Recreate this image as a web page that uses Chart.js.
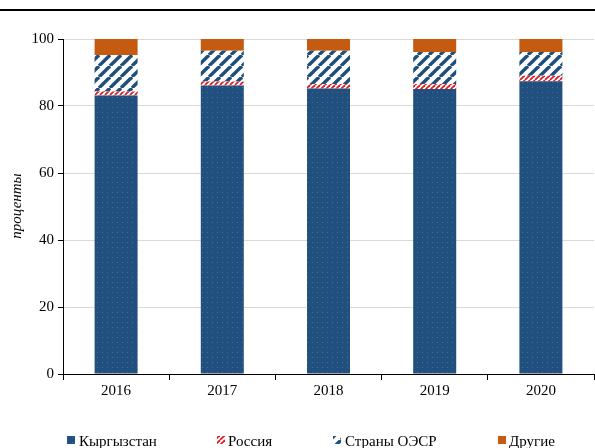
<!DOCTYPE html>
<html><head><meta charset="utf-8">
<script src="https://cdn.jsdelivr.net/npm/chart.js@4/dist/chart.umd.min.js"></script>
<style>html,body{margin:0;padding:0;background:#fff}#w{position:relative;width:595px;height:448px}</style>
</head><body><div id="w"><canvas id="c" width="595" height="448"></canvas></div>
<script>
const years = ['2016','2017','2018','2019','2020'];
const kyrgyzstan = [83.1, 86.1, 85.2, 85.1, 87.4];
const russia = [1.2, 1.2, 1.4, 1.5, 1.6];
const oecd = [10.9, 9.2, 9.9, 9.5, 7.1];
const others = [4.8, 3.5, 3.5, 3.9, 3.9];
const seriesNames = ['Кыргызстан', 'Россия', 'Страны ОЭСР', 'Другие'];
const yTicks = [0, 20, 40, 60, 80, 100];

const BLUE = '#1F4E79', RED = '#E31A1C', ORANGE = '#C55A11';
function mk(w, h, fn) { const c = document.createElement('canvas'); c.width = w; c.height = h; const x = c.getContext('2d'); fn(x, w, h); return x.createPattern(c, 'repeat'); }
const pKyr = mk(5, 5, (x) => { x.fillStyle = '#21507F'; x.fillRect(0, 0, 5, 5); x.fillStyle = '#3C6FA3'; x.fillRect(2, 2, 1, 1); });
function stripes(p, lw, col) {
  return mk(p, p, (x, w, h) => {
    x.fillStyle = '#fff'; x.fillRect(0, 0, w, h);
    x.strokeStyle = col; x.lineWidth = lw;
    for (const o of [-p, 0, p]) { x.beginPath(); x.moveTo(o, p); x.lineTo(o + p, 0); x.stroke(); }
  });
}
const pRus = stripes(5, 1.8, RED);
const pOecd = stripes(11, 3.4, BLUE);
const fills = [pKyr, pRus, pOecd, ORANGE];

const extras = {
  id: 'extras',
  afterDraw(chart) {
    const c = chart.ctx;
    c.save();
    c.fillStyle = '#000'; c.fillRect(0, 9, 595, 2);
    c.translate(17, 206); c.rotate(-Math.PI / 2);
    c.font = 'italic 15px "Liberation Serif"'; c.textAlign = 'center'; c.textBaseline = 'middle';
    c.fillText('проценты', 0, 0);
    c.restore();
    c.save();
    const pos = [[67, 79], [217, 228], [333, 345], [498, 509]];
    c.font = '15px "Liberation Serif"'; c.textBaseline = 'alphabetic'; c.fillStyle = '#000';
    seriesNames.forEach((n, i) => {
      c.fillStyle = fills[i]; c.fillRect(pos[i][0], 436, 8, 8);
      c.fillStyle = '#000'; c.fillText(n, pos[i][1], 446);
    });
    c.restore();
  }
};

new Chart(document.getElementById('c'), {
  type: 'bar',
  data: {
    labels: years,
    datasets: [kyrgyzstan, russia, oecd, others].map((d, i) => ({
      label: seriesNames[i], data: d, backgroundColor: fills[i], borderWidth: 0,
      categoryPercentage: 1, barPercentage: 0.405
    }))
  },
  options: {
    responsive: false, animation: false,
    layout: { padding: { top: 39, right: 1, left: 0, bottom: 0 } },
    plugins: { legend: { display: false }, tooltip: { enabled: false } },
    scales: {
      x: {
        stacked: true,
        grid: { drawOnChartArea: false, tickLength: 6, tickColor: '#000', offset: true },
        border: { color: '#000', width: 1 },
        ticks: { color: '#000', font: { family: 'Liberation Serif', size: 15 }, padding: 2 },
        afterFit: s => { s.height = 74; }
      },
      y: {
        stacked: true, min: 0, max: 100,
        afterBuildTicks: s => { s.ticks = yTicks.map(v => ({ value: v })); },
        grid: { color: '#D9D9D9', tickColor: '#000', tickLength: 5, lineWidth: 1 },
        border: { color: '#000', width: 1 },
        ticks: { color: '#000', font: { family: 'Liberation Serif', size: 15 }, padding: 4 },
        afterFit: s => { s.width = 63; }
      }
    }
  },
  plugins: [extras]
});
</script></body></html>
